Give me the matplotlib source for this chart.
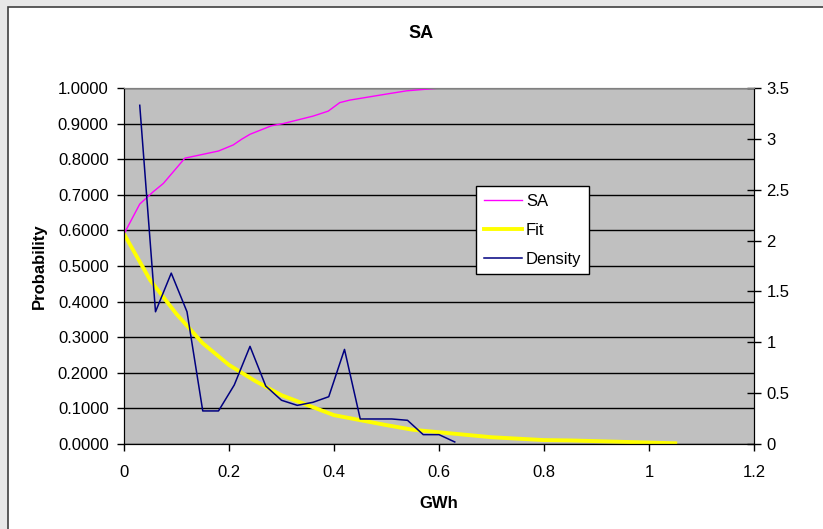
import matplotlib
matplotlib.use("Agg")
import matplotlib.pyplot as plt
from matplotlib.patches import Rectangle
from matplotlib.lines import Line2D
from matplotlib.ticker import FuncFormatter

plt.rcParams['font.family'] = ['Liberation Sans', 'DejaVu Sans']

# cumulative probability (left axis)
sa_x = [0, 0.03, 0.056, 0.075, 0.116, 0.129, 0.18, 0.208, 0.224, 0.24, 0.281,
        0.303, 0.36, 0.389, 0.411, 0.43, 0.5, 0.538, 0.595, 0.63]
sa_y = [0.590, 0.674, 0.709, 0.732, 0.803, 0.807, 0.823, 0.840, 0.856, 0.870,
        0.894, 0.900, 0.921, 0.935, 0.959, 0.966, 0.983, 0.992, 0.999, 1.0]

# fitted curve (left axis)
fit_x = [0, 0.05, 0.1, 0.15, 0.2, 0.25, 0.3, 0.35, 0.4, 0.45, 0.5, 0.55,
         0.6, 0.65, 0.7, 0.75, 0.8, 0.85, 0.9, 0.95, 1.0, 1.05]
fit_y = [0.590, 0.460, 0.365, 0.283, 0.222, 0.177, 0.137, 0.109, 0.081, 0.067,
         0.053, 0.040, 0.033, 0.026, 0.019, 0.015, 0.011, 0.010, 0.008, 0.006,
         0.004, 0.002]

# empirical density (right axis)
dens_x = [0.03, 0.06, 0.09, 0.12, 0.15, 0.18, 0.21, 0.24, 0.27, 0.30, 0.33,
          0.36, 0.39, 0.42, 0.45, 0.48, 0.51, 0.54, 0.57, 0.60, 0.63]
dens_y = [3.33, 1.30, 1.68, 1.30, 0.325, 0.325, 0.58, 0.96, 0.57, 0.43, 0.38,
          0.41, 0.465, 0.93, 0.246, 0.246, 0.246, 0.233, 0.092, 0.092, 0.02]

left_ticks = [0.0, 0.1, 0.2, 0.3, 0.4, 0.5, 0.6, 0.7, 0.8, 0.9, 1.0]
right_ticks = [0, 0.5, 1, 1.5, 2, 2.5, 3, 3.5]
x_ticks = [0, 0.2, 0.4, 0.6, 0.8, 1.0, 1.2]

W, H = 823, 529
fig = plt.figure(figsize=(W / 100, H / 100), dpi=100, facecolor='#e8e8e8')
fig.patches.append(Rectangle((8 / W, -0.02), 1.05, 1 - 7 / H + 0.02,
                             transform=fig.transFigure, facecolor='white',
                             edgecolor='#404040', lw=1.2, zorder=-5))

L, R, T, B = 124, 754, 88, 444
ax = fig.add_axes([L / W, 1 - B / H, (R - L) / W, (B - T) / H])
ax.set_facecolor('#c0c0c0')
ax2 = ax.twinx()

ax.plot(sa_x, sa_y, color='#ff00ff', lw=1.0, zorder=3)
ax.plot(fit_x, fit_y, color='#ffff00', lw=2.8, zorder=2)
ax2.plot(dens_x, dens_y, color='#000080', lw=1.1)

ax.set_xlim(0, 1.2)
ax.set_ylim(0, 1.0)
ax2.set_ylim(0, 3.5)

ax.set_yticks(left_ticks)
ax.yaxis.set_major_formatter(FuncFormatter(lambda v, p: '%.4f' % v))
ax2.set_yticks(right_ticks)
ax2.yaxis.set_major_formatter(FuncFormatter(lambda v, p: '%g' % v))
ax.set_xticks(x_ticks)
ax.xaxis.set_major_formatter(FuncFormatter(lambda v, p: '%g' % v))

ax.grid(axis='y', color='black', lw=1.0)
ax.set_axisbelow(True)

ax.tick_params(axis='y', direction='out', length=5, width=1, labelsize=12, pad=6)
ax.tick_params(axis='x', direction='out', length=5, width=1, labelsize=12, pad=10)
ax2.tick_params(axis='y', direction='inout', length=10, width=1, labelsize=12, pad=4)

for a in (ax, ax2):
    a.spines['top'].set_color('#808080')
    a.spines['left'].set_color('black')
    a.spines['bottom'].set_color('black')
    a.spines['right'].set_color('black')

ax.set_xlabel('GWh', fontsize=12, fontweight='bold', labelpad=12)
ax.set_ylabel('Probability', fontsize=12, fontweight='bold', labelpad=8)
fig.text(421 / W, 1 - 33 / H, 'SA', fontsize=13, fontweight='bold',
         ha='center', va='center')

handles = [Line2D([], [], color='#ff00ff', lw=1.0),
           Line2D([], [], color='#ffff00', lw=2.8),
           Line2D([], [], color='#000080', lw=1.1)]
leg = ax2.legend(handles, ['SA', 'Fit', 'Density'], loc='upper left',
                 bbox_to_anchor=(476 / W, 1 - 186 / H),
                 bbox_transform=fig.transFigure, fontsize=12, fancybox=False,
                 framealpha=1, edgecolor='black', borderpad=0.45,
                 labelspacing=0.85, handlelength=2.3, handletextpad=0.25,
                 borderaxespad=0)
leg.get_frame().set_linewidth(1.0)

fig.savefig('out.png', dpi=100, facecolor=fig.get_facecolor())
